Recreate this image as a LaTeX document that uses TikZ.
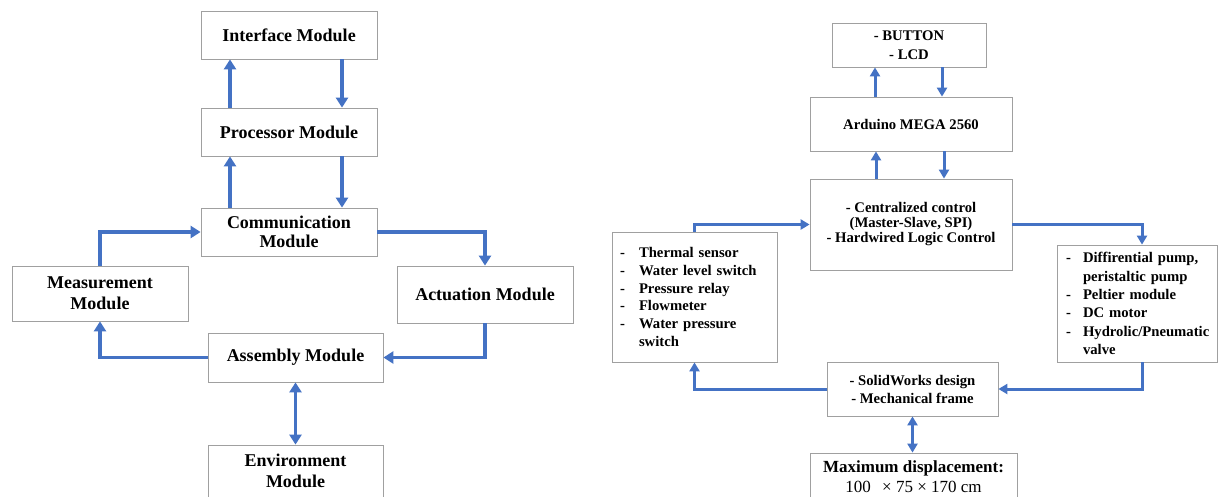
\documentclass[tikz,border=0pt]{standalone}
\usepackage{fontspec}
\setmainfont{Liberation Serif}
\usetikzlibrary{arrows.meta}
\definecolor{lineblue}{HTML}{4472C4}
\definecolor{boxgray}{HTML}{A0A0A0}
\newcommand{\litem}[2]{\makebox[#1][l]{-}#2}
\tikzset{
  box/.style={draw=boxgray, line width=0.8pt, rectangle, inner sep=0pt, align=center,
    font=\fontsize{18}{21}\selectfont\bfseries},
  rbox/.style={box, font=\fontsize{14.7}{18}\selectfont\bfseries},
  conn/.style={draw=lineblue, line width=3.5pt, -{Triangle[length=10pt,width=12pt]}},
  dconn/.style={draw=lineblue, line width=3.5pt, {Triangle[length=10pt,width=12pt]}-{Triangle[length=10pt,width=12pt]}},
  rconn/.style={draw=lineblue, line width=3pt, -{Triangle[length=9pt,width=10pt]}},
  rdconn/.style={draw=lineblue, line width=3pt, {Triangle[length=9pt,width=10pt]}-{Triangle[length=9pt,width=10pt]}},
}
\begin{document}
\begin{tikzpicture}[x=1pt,y=-1pt]
\useasboundingbox (0,0) rectangle (1225,496);
\clip (0,0) rectangle (1225,496);
\fill[white] (0,0) rectangle (1225,496);

% ---------- left diagram ----------
\node[box, minimum width=176pt, minimum height=48pt] (iface) at (289,35) {Interface Module};
\node[box, minimum width=176pt, minimum height=48pt] (proc) at (289,132) {Processor Module};
\node[box, minimum width=176pt, minimum height=48pt, font=\fontsize{18}{19}\selectfont\bfseries] (comm) at (289,232) {Communication\\Module};
\node[box, minimum width=176pt, minimum height=55pt] (meas) at (100,293.5) {Measurement\\Module};
\node[box, minimum width=176pt, minimum height=57pt] (act) at (485,294.5) {Actuation Module};
\node[box, minimum width=175pt, minimum height=49pt] (asm) at (295.5,357.5) {Assembly Module};
\node[box, minimum width=175pt, minimum height=52pt] (env) at (295.5,471) {Environment\\Module};

\draw[conn] ([xshift=-59pt]proc.north) -- ([xshift=-59pt]iface.south);
\draw[conn] ([xshift=53pt]iface.south) -- ([xshift=53pt]proc.north);
\draw[conn] ([xshift=-59pt]comm.north) -- ([xshift=-59pt]proc.south);
\draw[conn] ([xshift=53pt]proc.south) -- ([xshift=53pt]comm.north);
\draw[conn] (meas.north) |- (comm.west);
\draw[conn] (comm.east) -| (act.north);
\draw[conn] (act.south) |- (asm.east);
\draw[conn] (asm.west) -| (meas.south);
\draw[dconn] (asm.south) -- (env.north);

% ---------- right diagram ----------
\node[rbox, minimum width=154pt, minimum height=44pt, font=\fontsize{14.7}{19}\selectfont\bfseries] (btn) at (909,45) {- BUTTON\\- LCD};
\node[rbox, minimum width=202pt, minimum height=54pt] (ard) at (911,124) {Arduino MEGA 2560};
\node[rbox, minimum width=202pt, minimum height=91pt, font=\fontsize{14.7}{15}\selectfont\bfseries] (ctrl) at (911,224.5)
  {- Centralized control\\(Master-Slave, SPI)\\- Hardwired Logic Control};
\node[rbox, align=left, text width=149pt, inner xsep=8pt, minimum height=130pt,
  font=\fontsize{14.7}{17.7}\selectfont\bfseries] (sens) at (694.5,297)
  {\litem{19pt}{Thermal sensor}\\\litem{19pt}{Water level switch}\\\litem{19pt}{Pressure relay}\\
   \litem{19pt}{Flowmeter}\\\litem{19pt}{Water pressure}\\\hspace*{19pt}switch};
\node[rbox, align=left, text width=142pt, inner xsep=9pt, minimum height=117pt,
  font=\fontsize{14.7}{18.3}\selectfont\bfseries] (actr) at (1137,303.5)
  {\litem{17pt}{Diffirential pump,}\\\hspace*{17pt}peristaltic pump\\\litem{17pt}{Peltier module}\\
   \litem{17pt}{DC motor}\\\litem{17pt}{Hydrolic/Pneumatic}\\\hspace*{17pt}valve};
\node[rbox, minimum width=171pt, minimum height=54pt] (sw) at (912.5,389) {- SolidWorks design\\- Mechanical frame};
\node[rbox, minimum width=207pt, minimum height=48pt, font=\fontsize{17}{20}\selectfont] (maxd) at (913.5,477)
  {\textbf{Maximum displacement:}\\100\enspace\,× 75 × 170 cm};

\draw[rconn] ([xshift=-36pt]ard.north) -- ([xshift=-36pt]ard.north |- btn.south);
\draw[rconn] ([xshift=31pt]ard.north |- btn.south) -- ([xshift=31pt]ard.north);
\draw[rconn] ([xshift=-35pt]ctrl.north) -- ([xshift=-35pt]ctrl.north |- ard.south);
\draw[rconn] ([xshift=33pt]ctrl.north |- ard.south) -- ([xshift=33pt]ctrl.north);
\draw[rconn] (sens.north) |- (ctrl.west);
\draw[rconn] (ctrl.east) -| ([xshift=5pt]actr.north);
\draw[rconn] ([xshift=5pt]actr.south) |- (sw.east);
\draw[rconn] (sw.west) -| (sens.south);
\draw[rdconn] (sw.south) -- (sw.south |- maxd.north);
\end{tikzpicture}
\end{document}
